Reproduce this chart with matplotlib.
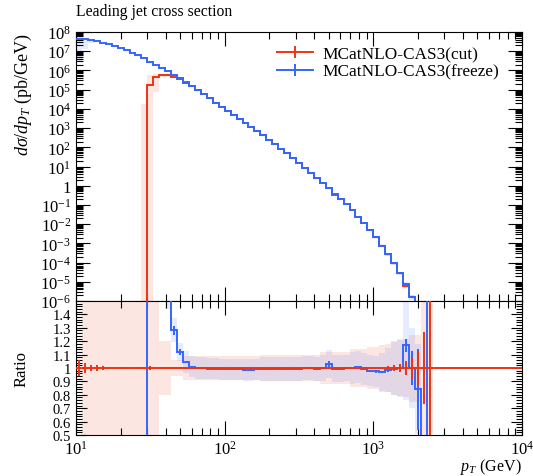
import numpy as np
import matplotlib
matplotlib.use("Agg")
import matplotlib.pyplot as plt
from matplotlib.lines import Line2D
from matplotlib.ticker import LogLocator, FuncFormatter, MultipleLocator, NullFormatter, FixedLocator

plt.rcParams['font.family'] = ['Liberation Serif', 'DejaVu Serif']
plt.rcParams['mathtext.fontset'] = 'custom'
plt.rcParams['mathtext.rm'] = 'Liberation Serif'
plt.rcParams['mathtext.it'] = 'Liberation Serif:italic'
plt.rcParams['font.size'] = 12

# log-uniform binning, 25 bins per decade from 10 to 10^4 GeV
bin_edges = np.logspace(1, 4, 76)

# freeze: log10(dsigma/dpT) per bin, k = 0..59 (empty above)
freeze_log = [7.62, 7.62, 7.58, 7.52, 7.45, 7.37, 7.28, 7.18, 7.06, 6.93,
              6.79, 6.63, 6.46, 6.30, 6.13, 5.95, 5.77, 5.58, 5.39, 5.19,
              4.97, 4.76, 4.54, 4.32, 4.10, 3.89, 3.68, 3.47, 3.26, 3.07,
              2.86, 2.62, 2.39, 2.17, 1.91, 1.70, 1.44, 1.18, 0.92, 0.66,
              0.40, 0.13, -0.12, -0.46, -0.69, -0.95, -1.27, -1.61, -1.96, -2.31,
              -2.69, -3.13, -3.56, -4.04, -4.56, -5.12, -5.78, -6.50, -7.30, -7.80]
# cut: empty below 30 GeV (k < 12), k = 12..59
cut_first_bin = 12
cut_log = [5.22, 5.68, 5.76, 5.74, 5.66, 5.53, 5.37, 5.18,
           4.97, 4.76, 4.54, 4.32, 4.10, 3.89, 3.68, 3.47, 3.26, 3.07,
           2.86, 2.62, 2.39, 2.17, 1.91, 1.70, 1.44, 1.18, 0.92, 0.66,
           0.40, 0.13, -0.12, -0.45, -0.69, -0.95, -1.27, -1.61, -1.95, -2.30,
           -2.68, -3.12, -3.56, -4.04, -4.56, -5.22, -5.78, -6.42, -7.00, -8.50]

# main-panel band overrides (log10)
freeze_band_lo_log = [6.42, 7.10, 7.45]
freeze_band_hi_log = [7.66, 7.66, 7.62]
cut_band_bins = [11, 12, 13]
cut_band_lo_log = [-9.0, -9.0, 4.90]
cut_band_hi_log = [4.25, 5.75, 5.80]

# ratio panel (k = 0..59)
freeze_ratio = [0] * 12 + [17, 4.2, 2.3, 1.6, 1.28, 1.12, 1.045, 1.01,
                1.0, 1.0, 0.995, 0.995, 0.99, 0.99, 0.99, 0.99, 0.985, 0.985,
                0.99, 0.99, 0.99, 0.995, 0.99, 0.99, 0.995, 0.995, 1.0, 1.0,
                0.995, 1.0, 1.03, 0.995, 0.995, 1.0, 1.0, 1.005, 0.99, 0.98,
                0.975, 0.97, 0.985, 0.995, 1.0, 1.17, 1.0, 0.84, 0.0, 50.0]
freeze_ratio_err = [0.0] * 16 + [0.03, 0.02] + [0.004] * 24 + [0.02] + [0.004] * 6 + \
                   [0.008, 0.01, 0.01, 0.012, 0.005, 0.005, 0.05, 0.13, 0.3, 0.0, 0.0]
cut_ratio_err = [0.06, 0.035, 0.025, 0.02, 0.015] + [0.01] * 7 + [0.015] + [0.004] * 37 + \
                [0.008, 0.01, 0.015, 0.02, 0.03, 0.05, 0.08, 0.13, 0.27, 1.0]
cut_band_rel = [0.0] + [1.0] * 13 + [0.2, 0.2, 0.06, 0.06] + [0.09] * 13 + [0.1] * 10 + \
               [0.12] * 5 + [0.14] * 3 + [0.16, 0.16, 0.17, 0.18, 0.2, 0.21, 0.22, 0.25, 0.25, 1.0, 1.0]
freeze_band_rel = [0.0] * 15 + [0.1, 0.07, 0.06] + [0.08] * 13 + [0.09] * 10 + [0.1] * 5 + \
                  [0.12] * 5 + [0.15, 0.17, 0.2, 0.22, 0.35, 0.3, 0.4, 0.0, 0.0]
ratio_tick_labels = ['0.5', '0.6', '0.7', '0.8', '0.9', '1', '1.1', '1.2', '1.3', '1.4']

RED = '#EE3311'
BLUE = '#3366FF'

nb = len(bin_edges) - 1
n_data = len(freeze_log)
centers = np.sqrt(bin_edges[:-1] * bin_edges[1:])

freeze = np.zeros(nb)
freeze[:n_data] = 10.0 ** np.array(freeze_log)
cut = np.zeros(nb)
cut[cut_first_bin:cut_first_bin + len(cut_log)] = 10.0 ** np.array(cut_log)

# main bands
cbr = np.zeros(nb)
cbr[:n_data] = cut_band_rel
fbr = np.zeros(nb)
fbr[:n_data] = freeze_band_rel
cut_lo = cut * (1 - np.minimum(cbr, 0.999))
cut_hi = cut * (1 + cbr)
for b, lo, hi in zip(cut_band_bins, cut_band_lo_log, cut_band_hi_log):
    cut_lo[b] = 10.0 ** lo
    cut_hi[b] = 10.0 ** hi
fr_lo = freeze * (1 - fbr)
fr_hi = freeze * (1 + fbr)
for b, (lo, hi) in enumerate(zip(freeze_band_lo_log, freeze_band_hi_log)):
    fr_lo[b] = 10.0 ** lo
    fr_hi[b] = 10.0 ** hi

W, H = 533, 477
fig = plt.figure(figsize=(W / 100, H / 100), dpi=100)
ax = fig.add_axes([76 / W, (H - 302) / H, 446 / W, 269 / H])
rax = fig.add_axes([76 / W, (H - 436) / H, 446 / W, 134 / H], sharex=ax)

# main panel
ax.stairs(cut_hi, bin_edges, baseline=np.maximum(cut_lo, 1e-12), fill=True, color=RED, alpha=0.12, lw=0)
ax.stairs(fr_hi, bin_edges, baseline=np.maximum(fr_lo, 1e-12), fill=True, color=BLUE, alpha=0.12, lw=0)
ax.stairs(np.maximum(cut, 1e-30), bin_edges, baseline=None, color=RED, lw=1.4, zorder=3)
ax.stairs(np.maximum(freeze, 1e-30), bin_edges, baseline=None, color=BLUE, lw=1.4, zorder=4)
ax.set_xscale('log')
ax.set_yscale('log')
ax.set_xlim(10, 1e4)
ax.set_ylim(1e-6, 1e8)

# ratio panel
ones = np.ones(nb)
crel = np.zeros(nb)
crel[:n_data] = cut_band_rel
rax.stairs(ones + crel, bin_edges, baseline=ones - crel, fill=True, color=RED, alpha=0.12, lw=0)
fratio = np.zeros(nb)
fratio[:n_data] = freeze_ratio
frel = np.zeros(nb)
frel[:n_data] = freeze_band_rel
rax.stairs(fratio * (1 + frel), bin_edges, baseline=fratio * (1 - frel), fill=True, color=BLUE, alpha=0.12, lw=0)
rax.stairs(fratio[:n_data], bin_edges[:n_data + 1], baseline=None, color=BLUE, lw=1.4, zorder=3)
rax.stairs(ones, bin_edges, baseline=None, color=RED, lw=1.4, zorder=4)
rax.errorbar(centers[:n_data], fratio[:n_data], yerr=freeze_ratio_err, fmt='none',
             ecolor=BLUE, elinewidth=1.4, zorder=3)
rax.errorbar(centers[:n_data], ones[:n_data], yerr=cut_ratio_err, fmt='none',
             ecolor=RED, elinewidth=1.4, zorder=4)
rax.set_ylim(0.5, 1.5)

# ticks
for a in (ax, rax):
    a.tick_params(which='both', direction='in', top=True, right=True, labelsize=12)
    a.tick_params(which='major', length=10, width=0.8)
    a.tick_params(which='minor', length=5, width=0.8)
    a.xaxis.set_major_locator(LogLocator(base=10, numticks=20))
    a.xaxis.set_minor_locator(LogLocator(base=10, subs=np.arange(2, 10), numticks=20))
    a.xaxis.set_minor_formatter(NullFormatter())

ax.yaxis.set_major_locator(LogLocator(base=10, numticks=30))
ax.yaxis.set_minor_locator(LogLocator(base=10, subs=np.arange(2, 10), numticks=30))
ax.yaxis.set_minor_formatter(NullFormatter())


def pow_label(v, pos):
    e = int(round(np.log10(v)))
    return '1' if e == 0 else r'$10^{%d}$' % e


ax.yaxis.set_major_formatter(FuncFormatter(pow_label))
plt.setp(ax.get_xticklabels(), visible=False)
rax.xaxis.set_major_formatter(FuncFormatter(pow_label))

rax.set_yticks([float(t) for t in ratio_tick_labels], ratio_tick_labels)
rax.yaxis.set_minor_locator(MultipleLocator(0.02))
rax.tick_params(axis='y', which='major', length=8, labelsize=10.5)
rax.tick_params(axis='y', which='minor', length=4)

# labels
fig.text(76 / W, 1 - 12 / H, 'Leading jet cross section', ha='left', va='center', fontsize=11.3)
fig.text(23 / W, 1 - 33 / H, r'$d\sigma/dp_T$ (pb/GeV)', rotation=90, ha='center', va='top', fontsize=13)
rax.set_ylabel('Ratio', fontsize=12)
rax.yaxis.set_label_coords(-0.105, 0.5)
fig.text(522 / W, 1 - 467 / H, r'$p_T$ (GeV)', ha='right', va='center', fontsize=11.5)

handles = [Line2D([], [], color=RED, lw=1.4, marker='|', markersize=8, mew=1.4),
           Line2D([], [], color=BLUE, lw=1.4, marker='|', markersize=8, mew=1.4)]
ax.legend(handles, ['MCatNLO-CAS3(cut)', 'MCatNLO-CAS3(freeze)'], loc='upper left',
          bbox_to_anchor=(0.45, 0.948), frameon=False, fontsize=12.4, handlelength=2.1,
          handletextpad=0.55, labelspacing=0.1, borderaxespad=0, borderpad=0)

fig.savefig('out.png', dpi=100)
